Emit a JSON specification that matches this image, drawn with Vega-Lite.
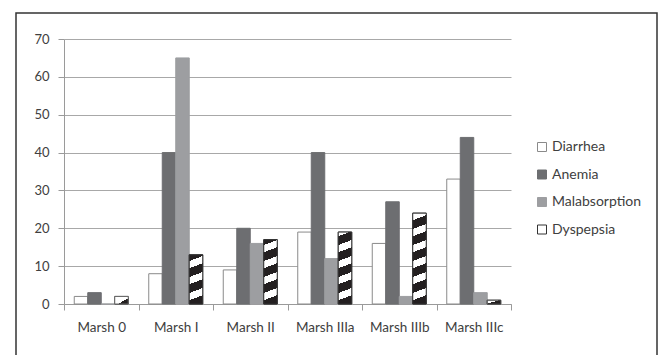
{
  "$schema": "https://vega.github.io/schema/vega-lite/v6.json",
  "width": 641,
  "height": 346,
  "autosize": {"type": "none"},
  "padding": {"left": 16, "top": 13, "right": 2, "bottom": -4},
  "background": "white",
  "config": {
    "view": {"stroke": "#333333", "strokeWidth": 1.5},
    "font": "Lato",
    "axis": {"labelFont": "Lato", "labelFontSize": 13, "labelColor": "#404040", "domainColor": "#9a9a9a", "tickColor": "#9a9a9a", "gridColor": "#a8a8a8", "title": null}
  },
  "data": {
    "values": [
      {"stage": "Marsh 0", "series": "Diarrhea", "value": 2},
      {"stage": "Marsh 0", "series": "Anemia", "value": 3},
      {"stage": "Marsh 0", "series": "Malabsorption", "value": 0},
      {"stage": "Marsh 0", "series": "Dyspepsia", "value": 2},
      {"stage": "Marsh I", "series": "Diarrhea", "value": 8},
      {"stage": "Marsh I", "series": "Anemia", "value": 40},
      {"stage": "Marsh I", "series": "Malabsorption", "value": 65},
      {"stage": "Marsh I", "series": "Dyspepsia", "value": 13},
      {"stage": "Marsh II", "series": "Diarrhea", "value": 9},
      {"stage": "Marsh II", "series": "Anemia", "value": 20},
      {"stage": "Marsh II", "series": "Malabsorption", "value": 16},
      {"stage": "Marsh II", "series": "Dyspepsia", "value": 17},
      {"stage": "Marsh IIIa", "series": "Diarrhea", "value": 19},
      {"stage": "Marsh IIIa", "series": "Anemia", "value": 40},
      {"stage": "Marsh IIIa", "series": "Malabsorption", "value": 12},
      {"stage": "Marsh IIIa", "series": "Dyspepsia", "value": 19},
      {"stage": "Marsh IIIb", "series": "Diarrhea", "value": 16},
      {"stage": "Marsh IIIb", "series": "Anemia", "value": 27},
      {"stage": "Marsh IIIb", "series": "Malabsorption", "value": 2},
      {"stage": "Marsh IIIb", "series": "Dyspepsia", "value": 24},
      {"stage": "Marsh IIIc", "series": "Diarrhea", "value": 33},
      {"stage": "Marsh IIIc", "series": "Anemia", "value": 44},
      {"stage": "Marsh IIIc", "series": "Malabsorption", "value": 3},
      {"stage": "Marsh IIIc", "series": "Dyspepsia", "value": 1}
    ]
  },
  "encoding": {
    "x": {"field": "stage", "type": "nominal",
      "scale": {"domain": ["Marsh 0", "Marsh I", "Marsh II", "Marsh IIIa", "Marsh IIIb", "Marsh IIIc"], "range": [48, 495], "paddingInner": 0, "paddingOuter": 0},
      "axis": {"orient": "bottom", "offset": -55, "labelAngle": 0, "labelFontSize": 13.5, "tickBand": "extent", "tickSize": 6, "labelPadding": 10, "grid": false}},
    "xOffset": {"field": "series", "type": "nominal",
      "scale": {"domain": ["Diarrhea", "Anemia", "Malabsorption", "Dyspepsia"], "paddingInner": 0, "paddingOuter": 0.76}},
    "y": {"field": "value", "type": "quantitative",
      "scale": {"domain": [0, 70], "range": [291, 26], "nice": false, "zero": true},
      "axis": {"orient": "left", "offset": -48, "values": [0, 10, 20, 30, 40, 50, 60, 70], "tickSize": 6, "labelPadding": 9, "grid": true}}
  },
  "layer": [
    {
      "mark": {"type": "bar", "strokeWidth": 1},
      "encoding": {
        "fill": {"field": "series", "type": "nominal",
          "scale": {"domain": ["Diarrhea", "Anemia", "Malabsorption", "Dyspepsia"], "range": ["#ffffff", "#6d6e71", "#9d9ea1", "#ffffff"]},
          "legend": {"title": null, "orient": "none", "legendX": 519, "legendY": 127, "symbolType": "square", "symbolSize": 81, "symbolStrokeWidth": 1, "labelFont": "Lato", "labelFontSize": 14, "labelColor": "#404040", "rowPadding": 13.5, "labelOffset": 3, "padding": 0,
            "encode": {"symbols": {"update": {
              "fill": [{"test": "datum.value === 'Dyspepsia'", "value": {"gradient": "linear", "x1": 0, "y1": 0, "x2": 1, "y2": 1, "stops": [{"offset": 0, "color": "#ffffff"}, {"offset": 0.5, "color": "#ffffff"}, {"offset": 0.5, "color": "#231f20"}, {"offset": 1, "color": "#231f20"}]}}, {"scale": "fill", "field": "value"}],
              "stroke": [{"scale": "stroke", "field": "value"}],
              "opacity": {"value": 1}
            }}}}},
        "stroke": {"field": "series", "type": "nominal",
          "scale": {"domain": ["Diarrhea", "Anemia", "Malabsorption", "Dyspepsia"], "range": ["#8a8a8a", "#6d6e71", "#9d9ea1", "#333333"]},
          "legend": null}
      }
    },
    {
      "transform": [{"filter": "datum.series === 'Dyspepsia' && (datum.stage === 'Marsh 0')"}],
      "mark": {"type": "bar", "stroke": "#666666", "strokeWidth": 1, "fill": {"gradient": "linear", "x1": 0, "y1": 0, "x2": 1, "y2": 1, "stops": [{"offset": 0, "color": "#ffffff"}, {"offset": 0.62, "color": "#ffffff"}, {"offset": 0.62, "color": "#231f20"}, {"offset": 1, "color": "#231f20"}]}},
      "encoding": {}
    },
    {
      "transform": [{"filter": "datum.series === 'Dyspepsia' && (datum.stage === 'Marsh IIIc')"}],
      "mark": {"type": "bar", "stroke": "#444444", "strokeWidth": 1, "fill": {"gradient": "linear", "x1": 0, "y1": 0, "x2": 1, "y2": 1, "stops": [{"offset": 0, "color": "#ffffff"}, {"offset": 0.45, "color": "#ffffff"}, {"offset": 0.45, "color": "#231f20"}, {"offset": 1, "color": "#231f20"}]}},
      "encoding": {}
    },
    {
      "transform": [{"filter": "datum.series === 'Dyspepsia' && datum.stage === 'Marsh I'"}],
      "mark": {"type": "bar", "stroke": "#333333", "strokeWidth": 1, "fill": {"gradient": "linear", "x1": 0, "y1": 0, "x2": 0.1016, "y2": 1, "stops": [
        {"offset": 0, "color": "#231f20"}, {"offset": 0.1248, "color": "#231f20"}, {"offset": 0.1248, "color": "#ffffff"}, {"offset": 0.2696, "color": "#ffffff"},
        {"offset": 0.2696, "color": "#231f20"}, {"offset": 0.4467, "color": "#231f20"}, {"offset": 0.4467, "color": "#ffffff"}, {"offset": 0.5915, "color": "#ffffff"},
        {"offset": 0.5915, "color": "#231f20"}, {"offset": 0.7685, "color": "#231f20"}, {"offset": 0.7685, "color": "#ffffff"}, {"offset": 0.9134, "color": "#ffffff"},
        {"offset": 0.9134, "color": "#231f20"}, {"offset": 1, "color": "#231f20"}]}},
      "encoding": {}
    },
    {
      "transform": [{"filter": "datum.series === 'Dyspepsia' && datum.stage === 'Marsh II'"}],
      "mark": {"type": "bar", "stroke": "#333333", "strokeWidth": 1, "fill": {"gradient": "linear", "x1": 0, "y1": 0, "x2": 0.0777, "y2": 1, "stops": [
        {"offset": 0, "color": "#231f20"}, {"offset": 0.0828, "color": "#231f20"}, {"offset": 0.0828, "color": "#ffffff"}, {"offset": 0.194, "color": "#ffffff"},
        {"offset": 0.194, "color": "#231f20"}, {"offset": 0.3299, "color": "#231f20"}, {"offset": 0.3299, "color": "#ffffff"}, {"offset": 0.4411, "color": "#ffffff"},
        {"offset": 0.4411, "color": "#231f20"}, {"offset": 0.577, "color": "#231f20"}, {"offset": 0.577, "color": "#ffffff"}, {"offset": 0.6882, "color": "#ffffff"},
        {"offset": 0.6882, "color": "#231f20"}, {"offset": 0.8241, "color": "#231f20"}, {"offset": 0.8241, "color": "#ffffff"}, {"offset": 0.9353, "color": "#ffffff"},
        {"offset": 0.9353, "color": "#231f20"}, {"offset": 1, "color": "#231f20"}]}},
      "encoding": {}
    },
    {
      "transform": [{"filter": "datum.series === 'Dyspepsia' && datum.stage === 'Marsh IIIa'"}],
      "mark": {"type": "bar", "stroke": "#333333", "strokeWidth": 1, "fill": {"gradient": "linear", "x1": 0, "y1": 0, "x2": 0.0695, "y2": 1, "stops": [
        {"offset": 0, "color": "#ffffff"}, {"offset": 0.0572, "color": "#ffffff"}, {"offset": 0.0572, "color": "#231f20"}, {"offset": 0.1789, "color": "#231f20"},
        {"offset": 0.1789, "color": "#ffffff"}, {"offset": 0.2786, "color": "#ffffff"}, {"offset": 0.2786, "color": "#231f20"}, {"offset": 0.4003, "color": "#231f20"},
        {"offset": 0.4003, "color": "#ffffff"}, {"offset": 0.4999, "color": "#ffffff"}, {"offset": 0.4999, "color": "#231f20"}, {"offset": 0.6217, "color": "#231f20"},
        {"offset": 0.6217, "color": "#ffffff"}, {"offset": 0.7213, "color": "#ffffff"}, {"offset": 0.7213, "color": "#231f20"}, {"offset": 0.843, "color": "#231f20"},
        {"offset": 0.843, "color": "#ffffff"}, {"offset": 0.9427, "color": "#ffffff"}, {"offset": 0.9427, "color": "#231f20"}, {"offset": 1, "color": "#231f20"}]}},
      "encoding": {}
    },
    {
      "transform": [{"filter": "datum.series === 'Dyspepsia' && datum.stage === 'Marsh IIIb'"}],
      "mark": {"type": "bar", "stroke": "#333333", "strokeWidth": 1, "fill": {"gradient": "linear", "x1": 0, "y1": 0, "x2": 0.055, "y2": 1, "stops": [
        {"offset": 0, "color": "#ffffff"}, {"offset": 0.0775, "color": "#ffffff"}, {"offset": 0.0775, "color": "#231f20"}, {"offset": 0.174, "color": "#231f20"},
        {"offset": 0.174, "color": "#ffffff"}, {"offset": 0.253, "color": "#ffffff"}, {"offset": 0.253, "color": "#231f20"}, {"offset": 0.3496, "color": "#231f20"},
        {"offset": 0.3496, "color": "#ffffff"}, {"offset": 0.4286, "color": "#ffffff"}, {"offset": 0.4286, "color": "#231f20"}, {"offset": 0.5251, "color": "#231f20"},
        {"offset": 0.5251, "color": "#ffffff"}, {"offset": 0.6041, "color": "#ffffff"}, {"offset": 0.6041, "color": "#231f20"}, {"offset": 0.7007, "color": "#231f20"},
        {"offset": 0.7007, "color": "#ffffff"}, {"offset": 0.7797, "color": "#ffffff"}, {"offset": 0.7797, "color": "#231f20"}, {"offset": 0.8762, "color": "#231f20"},
        {"offset": 0.8762, "color": "#ffffff"}, {"offset": 0.9552, "color": "#ffffff"}, {"offset": 0.9552, "color": "#231f20"}, {"offset": 1, "color": "#231f20"}]}},
      "encoding": {}
    }
  ]
}
